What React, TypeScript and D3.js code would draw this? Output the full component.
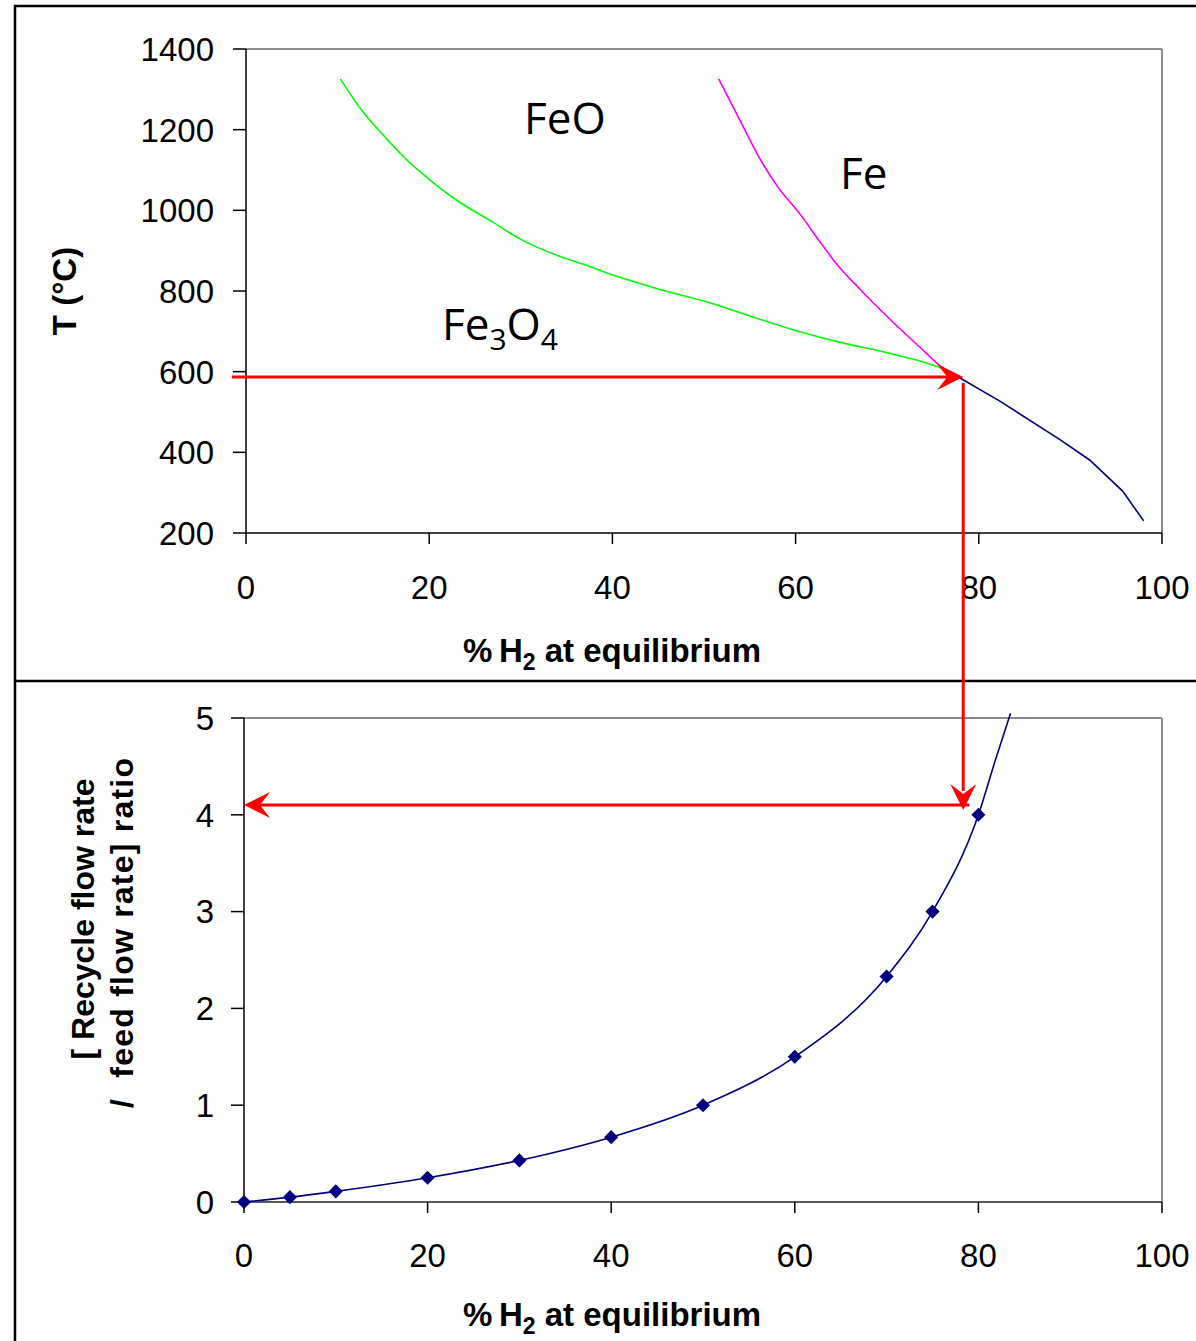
import React from "react";
import { scaleLinear, line, curveMonotoneX, curveLinear } from "d3";

// top chart: equilibrium phase boundaries, [% H2, T °C]
const feoFe3o4 = [
  [10.3, 1326], [12.5, 1252], [15, 1186], [17.5, 1126], [20, 1077], [23, 1025],
  [27, 970], [30, 928], [34, 888], [37, 865], [40, 840], [45, 805], [50, 775],
  [55, 738], [60, 702], [65, 672], [70, 647], [73, 630], [75.5, 612], [77, 598],
];
const feoFe = [
  [51.6, 1326], [54, 1220], [56, 1132], [58, 1060], [60.5, 990], [62.5, 927],
  [64.3, 872], [67, 805], [70.3, 730], [73.6, 660], [76.3, 605], [77.9, 585],
];
const fe3o4Fe = [
  [77.9, 585], [82.3, 527], [88.9, 431], [92.1, 381], [95.7, 304], [98, 230],
];

// bottom chart: recycle / feed ratio
const h2Pct = [0, 5, 10, 20, 30, 40, 50, 60, 70, 75, 80];
const ratio = [0, 0.05, 0.11, 0.25, 0.43, 0.67, 1.0, 1.5, 2.33, 3.0, 4.0];
const ratioTail = [[81.8, 4.55], [83.5, 5.05]];

const topXTicks = [0, 20, 40, 60, 80, 100];
const topYTicks = [200, 400, 600, 800, 1000, 1200, 1400];
const botXTicks = [0, 20, 40, 60, 80, 100];
const botYTicks = [0, 1, 2, 3, 4, 5];

// operating point read from the arrows
const opH2 = 78.3;
const opT = 587;
const opRatio = 4.1;

const font = "'Liberation Sans', Arial, sans-serif";
const labelFont = "'Open Sans', 'Noto Sans', sans-serif";

const arrowHead = (tx: number, ty: number, angle: number) => {
  // stealth style arrow head, pointing along angle (deg)
  const pts = "0,0 -26,-13 -16,0 -26,13";
  return (
    <polygon
      points={pts}
      fill="#ff0000"
      transform={`translate(${tx},${ty}) rotate(${angle})`}
    />
  );
};

const App = () => {
  const width = 1196;
  const height = 1341;

  const tx = scaleLinear().domain([0, 100]).range([246, 1162]);
  const ty = scaleLinear().domain([200, 1400]).range([533, 49]);
  const bx = scaleLinear().domain([0, 100]).range([244, 1162]);
  const by = scaleLinear().domain([0, 5]).range([1202, 718]);

  const topLine = line<number[]>()
    .x((d) => tx(d[0]))
    .y((d) => ty(d[1]))
    .curve(curveMonotoneX);
  const topPoly = line<number[]>()
    .x((d) => tx(d[0]))
    .y((d) => ty(d[1]))
    .curve(curveLinear);

  const botPts = h2Pct.map((x, i) => [x, ratio[i]]).concat(ratioTail);
  const botLine = line<number[]>()
    .x((d) => bx(d[0]))
    .y((d) => by(d[1]))
    .curve(curveMonotoneX);

  const axisTitle = (cx: number, y: number) => (
    <text x={cx} y={y} textAnchor="middle" fontFamily={font} fontWeight="bold" fontSize={33}>
      %{"\u2009"}H<tspan fontSize={23} dy={8}>2</tspan>
      <tspan dy={-8}> at equilibrium</tspan>
    </text>
  );

  const opX = tx(opH2);
  const opY = ty(opT);
  const opY2 = by(opRatio);

  return (
    <svg
      width={width}
      height={height}
      style={{ position: "absolute", left: 0, top: 0, background: "#fff" }}
    >
      {/* frame */}
      <line x1={15} y1={5} x2={15} y2={height} stroke="#000" strokeWidth={2.5} />
      <line x1={14} y1={6} x2={width} y2={6} stroke="#000" strokeWidth={2.5} />
      <line x1={14} y1={681} x2={width} y2={681} stroke="#000" strokeWidth={2.5} />

      {/* ---------- top chart ---------- */}
      <g>
        <line x1={tx(0)} y1={ty(1400)} x2={tx(100)} y2={ty(1400)} stroke="#8c8c8c" strokeWidth={2} />
        <line x1={tx(100)} y1={ty(1400)} x2={tx(100)} y2={ty(200)} stroke="#8c8c8c" strokeWidth={2} />
        <line x1={tx(0)} y1={ty(200)} x2={tx(100)} y2={ty(200)} stroke="#000" strokeWidth={1.5} />
        <line x1={tx(0)} y1={ty(1400)} x2={tx(0)} y2={ty(200)} stroke="#000" strokeWidth={1.5} />
        {topYTicks.map((t) => (
          <g key={t}>
            <line x1={tx(0) - 13} x2={tx(0)} y1={ty(t)} y2={ty(t)} stroke="#000" strokeWidth={1.5} />
            <text x={214} y={ty(t)} dy="0.36em" textAnchor="end" fontFamily={font} fontSize={33}>
              {t}
            </text>
          </g>
        ))}
        {topXTicks.map((t) => (
          <g key={t}>
            <line x1={tx(t)} x2={tx(t)} y1={ty(200)} y2={ty(200) + 11} stroke="#000" strokeWidth={1.5} />
            <text x={tx(t)} y={599} textAnchor="middle" fontFamily={font} fontSize={33}>
              {t}
            </text>
          </g>
        ))}
        {axisTitle(612, 662)}
        <text
          transform="translate(76,291) rotate(-90)"
          textAnchor="middle"
          fontFamily={font}
          fontWeight="bold"
          fontSize={33}
        >
          T (°C)
        </text>

        <path d={topLine(feoFe3o4) ?? ""} fill="none" stroke="#00ff00" strokeWidth={1.6} />
        <path d={topLine(feoFe) ?? ""} fill="none" stroke="#ff00ff" strokeWidth={1.6} />
        <path d={topPoly(fe3o4Fe) ?? ""} fill="none" stroke="#000080" strokeWidth={1.6} />

        <text x={524} y={134} fontFamily={labelFont} fontSize={44}>FeO</text>
        <text x={840} y={189} fontFamily={labelFont} fontSize={44}>Fe</text>
        <text x={442} y={340} fontFamily={labelFont} fontSize={44}>
          Fe<tspan fontSize={30} dy={10}>3</tspan>
          <tspan dy={-10}>O</tspan>
          <tspan fontSize={30} dy={10}>4</tspan>
        </text>
      </g>

      {/* ---------- bottom chart ---------- */}
      <g>
        <line x1={bx(0)} y1={by(5)} x2={bx(100)} y2={by(5)} stroke="#8c8c8c" strokeWidth={2} />
        <line x1={bx(100)} y1={by(5)} x2={bx(100)} y2={by(0)} stroke="#8c8c8c" strokeWidth={2} />
        <line x1={bx(0)} y1={by(0)} x2={bx(100)} y2={by(0)} stroke="#222" strokeWidth={1.5} />
        <line x1={bx(0)} y1={by(5)} x2={bx(0)} y2={by(0)} stroke="#000" strokeWidth={1.5} />
        {botYTicks.map((t) => (
          <g key={t}>
            <line x1={bx(0) - 13} x2={bx(0)} y1={by(t)} y2={by(t)} stroke="#000" strokeWidth={1.5} />
            <text x={214} y={by(t)} dy="0.36em" textAnchor="end" fontFamily={font} fontSize={33}>
              {t}
            </text>
          </g>
        ))}
        {botXTicks.map((t) => (
          <g key={t}>
            <line x1={bx(t)} x2={bx(t)} y1={by(0)} y2={by(0) + 11} stroke="#000" strokeWidth={1.5} />
            <text x={bx(t)} y={1267} textAnchor="middle" fontFamily={font} fontSize={33}>
              {t}
            </text>
          </g>
        ))}
        {axisTitle(612, 1326)}
        <text transform="translate(94,919) rotate(-90)" textAnchor="middle" fontFamily={font} fontWeight="bold" fontSize={32}>
          [ Recycle flow rate
        </text>
        <text
          transform="translate(133,933) rotate(-90)"
          textAnchor="middle"
          fontFamily={font}
          fontWeight="bold"
          fontSize={32}
          textLength={350}
          lengthAdjust="spacing"
        >
          /{"\u00a0\u00a0"}feed flow rate] ratio
        </text>

        <path d={botLine(botPts) ?? ""} fill="none" stroke="#000080" strokeWidth={1.6} />
        {h2Pct.map((x, i) => (
          <rect
            key={x}
            x={-5}
            y={-5}
            width={10}
            height={10}
            fill="#000080"
            transform={`translate(${bx(x)},${by(ratio[i])}) rotate(45)`}
          />
        ))}
      </g>

      {/* ---------- red guide arrows ---------- */}
      <g stroke="#ff0000" strokeWidth={3}>
        <line x1={232} y1={opY} x2={opX - 14} y2={opY} />
        <line x1={opX} y1={opY + 6} x2={opX} y2={opY2 - 14} />
        <line x1={opX + 6} y1={opY2} x2={bx(0) + 14} y2={opY2} />
      </g>
      {arrowHead(opX, opY, 0)}
      {arrowHead(opX, opY2 + 5, 90)}
      {arrowHead(bx(0), opY2, 180)}
    </svg>
  );
};

export default App;
